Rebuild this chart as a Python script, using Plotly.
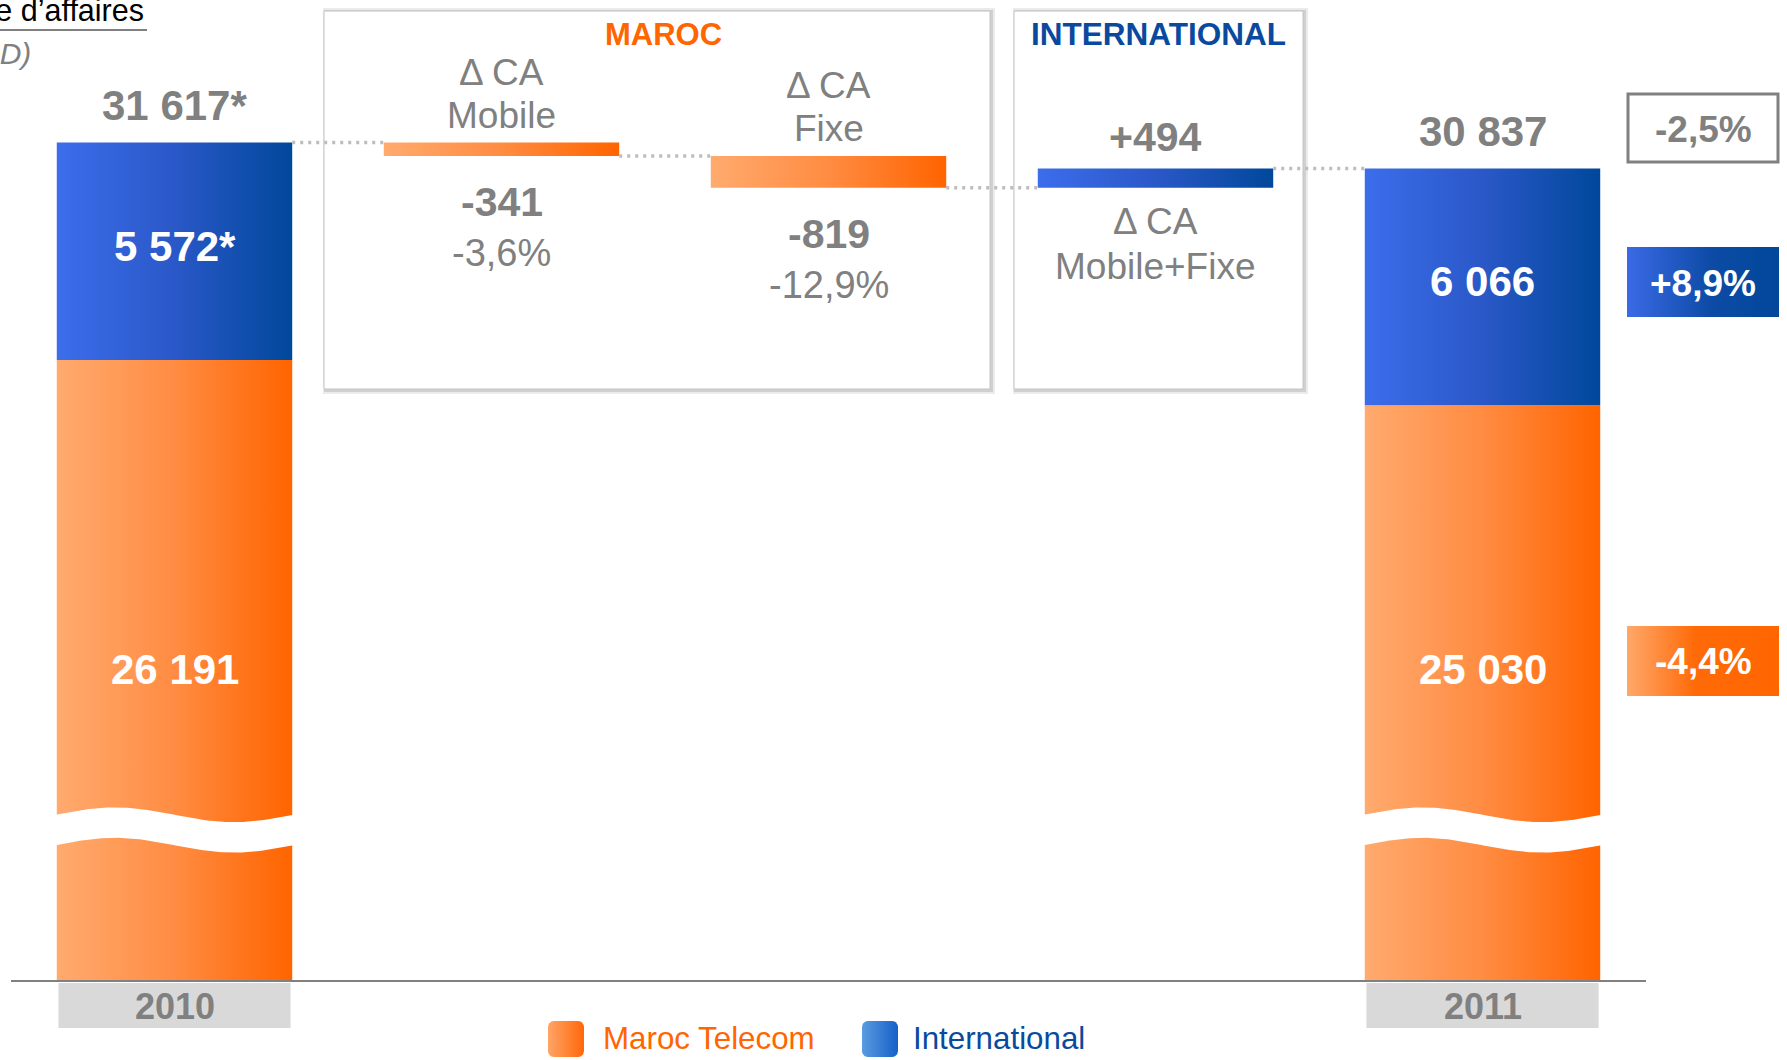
import numpy as np
import plotly.graph_objects as go

W, H = 1787, 1060

# ---------------- data ----------------
years = ["2010", "2011"]
maroc = [26191, 25030]
international = [5572, 6066]
maroc_labels = ["26 191", "25 030"]
intl_labels = ["5 572*", "6 066"]
total_labels = ["31 617*", "30 837"]

bridge_line1 = ["Δ CA", "Δ CA", "Δ CA"]
bridge_line2 = ["Mobile", "Fixe", "Mobile+Fixe"]
bridge_values = [-341, -819, 494]
bridge_value_labels = ["-341", "-819", "+494"]
bridge_pct_labels = ["-3,6%", "-12,9%", ""]
bridge_segment = ["Maroc", "Maroc", "International"]

group_titles = ["MAROC", "INTERNATIONAL"]
growth_labels = ["-2,5%", "+8,9%", "-4,4%"]   # total, International, Maroc
legend_names = ["Maroc Telecom", "International"]
title_text = "Chiffre d’affaires"
unit_text = "(en MMAD)"

# ---------------- layout constants ----------------
X_LEFT, X_RIGHT = 11, 1646
Y_BOTTOM = 981
Y_MIN = 10265
PX_PER_UNIT = 0.039
Y_MAX = Y_MIN + Y_BOTTOM / PX_PER_UNIT
BAR_W = 0.72
HW = BAR_W / 2
year_x = [0, 4]

FONT = "Liberation Sans, Arial, sans-serif"
GRAY = "#808080"
ORANGE_TXT = "#FF6600"
BLUE_TXT = "#0A4A9E"
ORANGE_CS = [[0, "#FFAA6E"], [0.5, "#FF8C42"], [1, "#FF6400"]]
BLUE_CS = [[0, "#3C6DEB"], [0.5, "#2A58C8"], [1, "#00489B"]]
ORANGE_BADGE_CS = [[0, "#FFA86A"], [0.45, "#FF6A08"], [1, "#FF6600"]]
BLUE_BADGE_CS = [[0, "#3A6AE6"], [0.55, "#0D4BA6"], [1, "#00479A"]]
ORANGE_LEG_CS = [[0, "#FFA467"], [1, "#FF680A"]]
BLUE_LEG_CS = [[0, "#5B9BE0"], [1, "#1560C9"]]


def rect_trace(x0, x1, y0, y1, cs, xa="x", ya="y"):
    return go.Scatter(
        x=[x0, x1, x1, x0, x0], y=[y0, y0, y1, y1, y0],
        mode="lines", line=dict(width=0, color="rgba(0,0,0,0)"),
        fill="toself", fillgradient=dict(type="horizontal", colorscale=cs),
        hoverinfo="skip", showlegend=False, xaxis=xa, yaxis=ya)


def rounded_square(x0, y0, x1, y1, r, cs):
    xs, ys = [], []
    corners = [(x1 - r, y0 + r, -90, 0), (x1 - r, y1 - r, 0, 90),
               (x0 + r, y1 - r, 90, 180), (x0 + r, y0 + r, 180, 270)]
    for cx, cy, a0, a1 in corners:
        a = np.radians(np.linspace(a0, a1, 8))
        xs += list(cx + r * np.cos(a))
        ys += list(cy + r * np.sin(a))
    xs.append(xs[0]); ys.append(ys[0])
    return go.Scatter(x=xs, y=ys, mode="lines", line=dict(width=0, color="rgba(0,0,0,0)"),
                      fill="toself", fillgradient=dict(type="horizontal", colorscale=cs),
                      hoverinfo="skip", showlegend=False, xaxis="x2", yaxis="y2")


traces = []

# stacked year bars
for j in range(2):
    xc = year_x[j]
    traces.append(rect_trace(xc - HW, xc + HW, 0, maroc[j], ORANGE_CS))
    traces.append(rect_trace(xc - HW, xc + HW, maroc[j], maroc[j] + international[j], BLUE_CS))

# bridge (waterfall)
level = maroc[0] + international[0]
levels = [level]
tops, bottoms = [], []
for k, d in enumerate(bridge_values):
    xk = 1 + k
    cs = ORANGE_CS if bridge_segment[k] == "Maroc" else BLUE_CS
    traces.append(rect_trace(xk - HW, xk + HW, level, level + d, cs))
    tops.append(max(level, level + d))
    bottoms.append(min(level, level + d))
    level += d
    levels.append(level)

# dotted connectors
for k in range(4):
    traces.append(go.Scatter(
        x=[k + HW, k + 1 - HW], y=[levels[k], levels[k]], mode="lines",
        line=dict(color="#BDBDBD", width=3.5, dash="3px,5px"),
        hoverinfo="skip", showlegend=False))

# axis-break waves on the year bars
BREAK_Y, BREAK_AMP, BREAK_HALF = 14137, 190, 390
t = np.linspace(0, 1, 120)
for xc in year_x:
    xs = xc - HW - 0.004 + t * (BAR_W + 0.008)
    yc = BREAK_Y + BREAK_AMP * np.sin(2 * np.pi * t)
    traces.append(go.Scatter(
        x=np.concatenate([xs, xs[::-1]]),
        y=np.concatenate([yc + BREAK_HALF, (yc - BREAK_HALF)[::-1]]),
        mode="lines", line=dict(width=0, color="white"), fill="toself",
        fillcolor="white", hoverinfo="skip", showlegend=False))

# growth badges (pixel space)
traces.append(rect_trace(1627, 1779, 247, 317, BLUE_BADGE_CS, "x2", "y2"))
traces.append(rect_trace(1627, 1779, 626, 696, ORANGE_BADGE_CS, "x2", "y2"))

# legend squares
traces.append(rounded_square(548, 1021, 584, 1057, 6, ORANGE_LEG_CS))
traces.append(rounded_square(862, 1021, 898, 1057, 6, BLUE_LEG_CS))

fig = go.Figure(traces)


def pp(x0, y0, x1, y1):
    return dict(xref="paper", yref="paper", x0=x0 / W, x1=x1 / W, y0=1 - y1 / H, y1=1 - y0 / H)


shapes = []
for (x0, x1) in [(324, 990), (1014, 1303)]:
    shapes.append(dict(type="rect", layer="below", line=dict(width=0), fillcolor="#EBEBEB", **pp(x0 - 1, 8, x1 + 5, 394)))
    shapes.append(dict(type="rect", layer="below", line=dict(width=0), fillcolor="#D0D0D0", **pp(x0, 10, x1 + 3, 392)))
    shapes.append(dict(type="rect", layer="below", line=dict(width=1, color="#C4C4C4"), fillcolor="white", **pp(x0, 11, x1, 389)))
shapes.append(dict(type="rect", layer="below", line=dict(width=3, color=GRAY), fillcolor="white", **pp(1628, 94, 1778, 162)))
for xc in year_x:
    shapes.append(dict(type="rect", layer="below", xref="x", yref="paper", x0=xc - HW + 0.005, x1=xc + HW - 0.005,
                       y0=1 - 1028 / H, y1=1 - 983 / H, line=dict(width=0), fillcolor="#D9D9D9"))
shapes.append(dict(type="line", layer="above", line=dict(width=2, color=GRAY), **pp(X_LEFT, Y_BOTTOM, X_RIGHT, Y_BOTTOM)))
shapes.append(dict(type="line", layer="above", line=dict(width=2, color=GRAY), **pp(0, 30, 147, 30)))

ann = []


def A(text, x, y, xref="x2", yref="y2", size=36, color=GRAY, xanchor="center", yanchor="middle", yshift=0):
    ann.append(dict(text=text, x=x, y=y, xref=xref, yref=yref, showarrow=False,
                    xanchor=xanchor, yanchor=yanchor, yshift=yshift,
                    font=dict(family=FONT, size=size, color=color)))


for j in range(2):
    xc = year_x[j]
    top = maroc[j] + international[j]
    A("<b>%s</b>" % total_labels[j], xc, top, "x", "y", 42, GRAY, yshift=37)
    A("<b>%s</b>" % intl_labels[j], xc, maroc[j] + international[j] / 2, "x", "y", 42, "white", yshift=5)
    A("<b>%s</b>" % maroc_labels[j], xc, 669, "x", "y2", 42, "white")
    A("<b>%s</b>" % years[j], xc, 1006, "x", "y2", 36, GRAY)

for k, d in enumerate(bridge_values):
    xk = 1 + k
    if d < 0:
        A(bridge_line1[k], xk, tops[k], "x", "y", 37, GRAY, yshift=70)
        A(bridge_line2[k], xk, tops[k], "x", "y", 37, GRAY, yshift=27)
        A("<b>%s</b>" % bridge_value_labels[k], xk, bottoms[k], "x", "y", 41, GRAY, yshift=-46)
        A(bridge_pct_labels[k], xk, bottoms[k], "x", "y", 38, GRAY, yshift=-97)
    else:
        A("<b>%s</b>" % bridge_value_labels[k], xk, tops[k], "x", "y", 41, GRAY, yshift=32)
        A(bridge_line1[k], xk, bottoms[k], "x", "y", 37, GRAY, yshift=-34)
        A(bridge_line2[k], xk, bottoms[k], "x", "y", 37, GRAY, yshift=-79)

A("<b>%s</b>" % group_titles[0], 663, 34, size=31, color=ORANGE_TXT)
A("<b>%s</b>" % group_titles[1], 1158, 34, size=31.5, color=BLUE_TXT)

A("<b>%s</b>" % growth_labels[0], 1703, 129, size=37, color=GRAY)
A("<b>%s</b>" % growth_labels[1], 1703, 283, size=37, color="white")
A("<b>%s</b>" % growth_labels[2], 1703, 661, size=37, color="white")

A(legend_names[0], 601, 1038, size=31.3, color=ORANGE_TXT, xanchor="left")
A(legend_names[1], 911, 1038, size=31.3, color=BLUE_TXT, xanchor="left")

A(title_text, 146, 10, size=30.5, color="black", xanchor="right")
A("<i>%s</i>" % unit_text, 33, 53, size=30, color=GRAY, xanchor="right")

fig.update_layout(
    width=W, height=H, margin=dict(l=0, r=0, t=0, b=0),
    paper_bgcolor="white", plot_bgcolor="rgba(0,0,0,0)",
    showlegend=False, shapes=shapes, annotations=ann,
    xaxis=dict(domain=[X_LEFT / W, X_RIGHT / W], range=[-0.5, 4.5], visible=False, fixedrange=True),
    yaxis=dict(domain=[1 - Y_BOTTOM / H, 1], range=[Y_MIN, Y_MAX], visible=False, fixedrange=True),
    xaxis2=dict(domain=[0, 1], range=[0, W], anchor="y2", visible=False, fixedrange=True),
    yaxis2=dict(domain=[0, 1], range=[H, 0], anchor="x2", visible=False, fixedrange=True),
)

fig.write_html("out.html", config={"displayModeBar": False},
               post_script="document.body.style.margin='0';document.body.style.overflow='hidden';")
